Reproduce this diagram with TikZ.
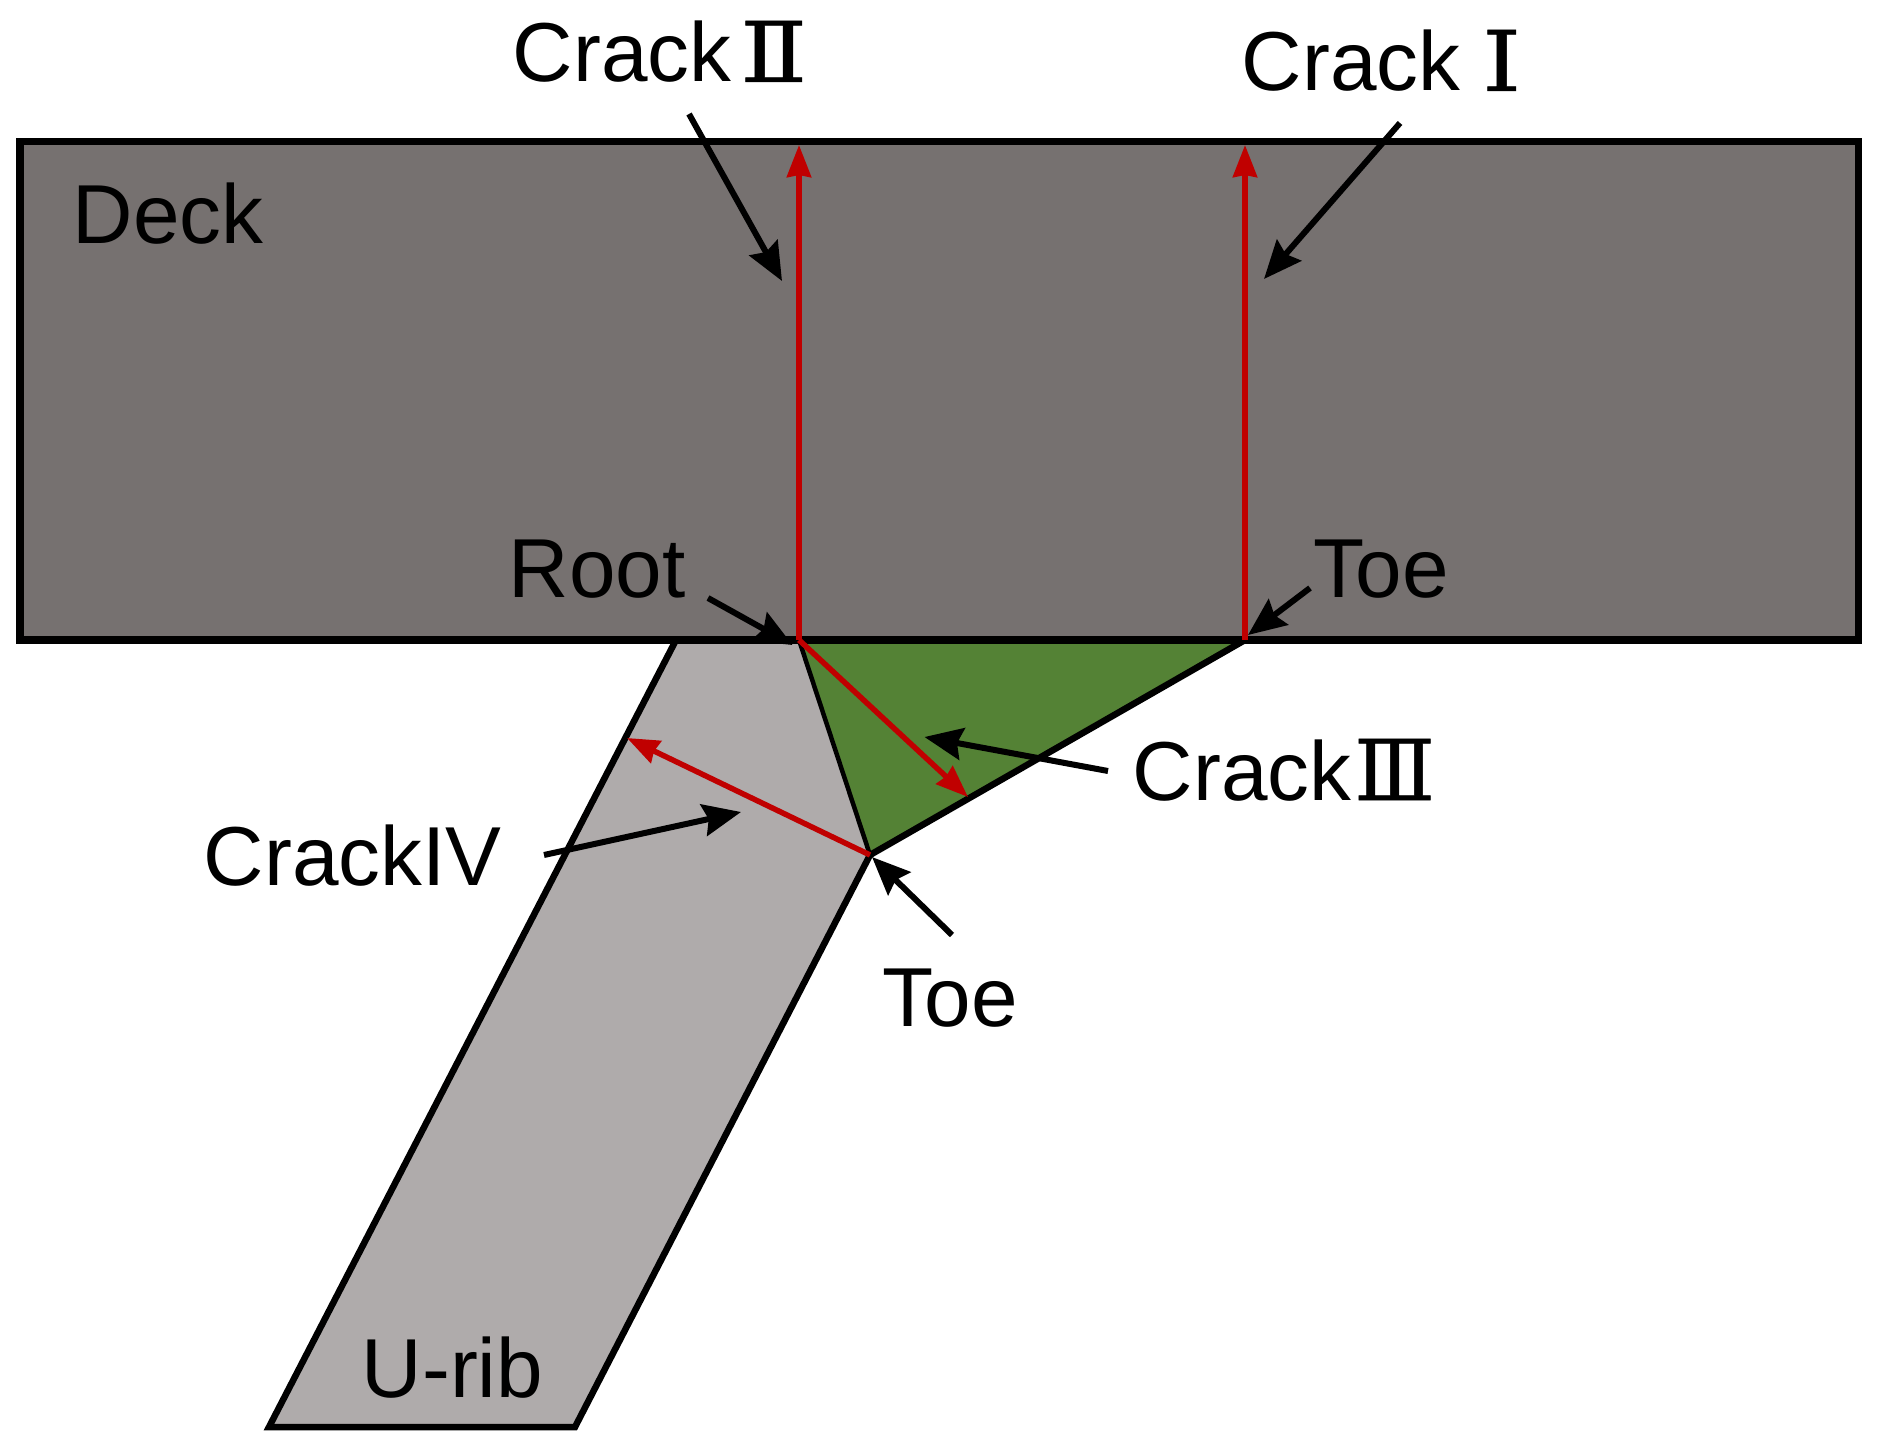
\documentclass[tikz,border=0pt]{standalone}
\usepackage{fontspec}
\setmainfont{Liberation Sans}
\newfontfamily\numfont[FakeBold=0.6]{DejaVu Serif}
\newfontfamily\numwide[FakeBold=0.6,FakeStretch=1.18]{DejaVu Serif}
\usetikzlibrary{arrows.meta}
\definecolor{deckgray}{HTML}{767170}
\definecolor{ribgray}{HTML}{AFABAB}
\definecolor{weldgreen}{HTML}{548235}
\definecolor{crackred}{HTML}{C00000}
\tikzset{
  lbl/.style={font=\fontsize{23.8}{28}\selectfont,anchor=base west,inner sep=0pt},
  outline/.style={line width=0.065cm},
  crackarrow/.style={draw=crackred,line width=0.055cm,-{Stealth[inset=0.02cm,length=0.32cm,width=0.24cm,fill=crackred]}},
  leader/.style={draw=black,line width=0.06cm,-{Stealth[inset=0.05cm,length=0.38cm,width=0.32cm,fill=black]}}
}

\begin{document}
\begin{tikzpicture}[x=0.01cm,y=-0.01cm]
\useasboundingbox (0,0) rectangle (1882,1443);
\coordinate (root) at (799,640);
\coordinate (toeA) at (1245,640);
\coordinate (toeB) at (870,855);
\coordinate (ribA) at (676,640);
\coordinate (ribB) at (269,1427);
\coordinate (ribC) at (575,1427);

\fill[ribgray] (ribA) -- (ribB) -- (ribC) -- (toeB) -- (root) -- cycle;
\fill[weldgreen] (root) -- (toeB) -- (toeA) -- cycle;
\draw[outline] (ribA) -- (ribB) -- (ribC) -- (toeB);
\draw[outline] (toeB) -- (toeA);
\draw[line width=0.045cm] (root) -- (toeB);
\draw[fill=deckgray,line width=0.07cm] (20,142) rectangle (1858,640);

\node[lbl] (deck) at (72,244) {Deck};
\node[lbl] (rootlbl) at (508,598) {Root};
\node[lbl] (toetop) at (1313,598) {Toe};
\node[lbl] (toebot) at (882,1026) {Toe};
\node[lbl] (urib) at (361,1397) {U-rib};
\node[lbl] (crackone) at (1241,91) {Crack\hspace{0.22cm}{\numwide Ⅰ}};
\node[lbl] (cracktwo) at (512,82) {Crack\hspace{0.09cm}{\numwide Ⅱ}};
\node[lbl] (crackthree) at (1132,800) {Crack\hspace{0.03cm}{\numfont Ⅲ}};
\node[lbl] (crackfour) at (203,885) {CrackIV};

% crack paths
\coordinate (tipone) at (1245,145);
\coordinate (tiptwo) at (799,145);
\coordinate (tipthree) at (968,797);
\coordinate (tipfour) at (627,738);
\draw[crackarrow] (toeA) -- (tipone);
\draw[crackarrow] (root) -- (tiptwo);
\draw[crackarrow] (root) -- (tipthree);
\draw[crackarrow] (toeB) -- (tipfour);

% leaders
\coordinate (a1) at (1400,123);
\coordinate (a2) at (1264,279);
\coordinate (b1) at (689,114);
\coordinate (b2) at (782,281);
\coordinate (c1) at (1108,771);
\coordinate (c2) at (924.5,737);
\coordinate (d1) at (544,855);
\coordinate (d2) at (741,812);
\coordinate (e1) at (708,598);
\coordinate (e2) at (792.5,645);
\coordinate (f1) at (1310,588);
\coordinate (f2) at (1248,635);
\coordinate (g1) at (952,935);
\coordinate (g2) at (872,857);
\draw[leader] (a1) -- (a2);
\draw[leader] (b1) -- (b2);
\draw[leader] (c1) -- (c2);
\draw[leader] (d1) -- (d2);
\draw[leader] (e1) -- (e2);
\draw[leader] (f1) -- (f2);
\draw[leader] (g1) -- (g2);
\end{tikzpicture}
\end{document}
